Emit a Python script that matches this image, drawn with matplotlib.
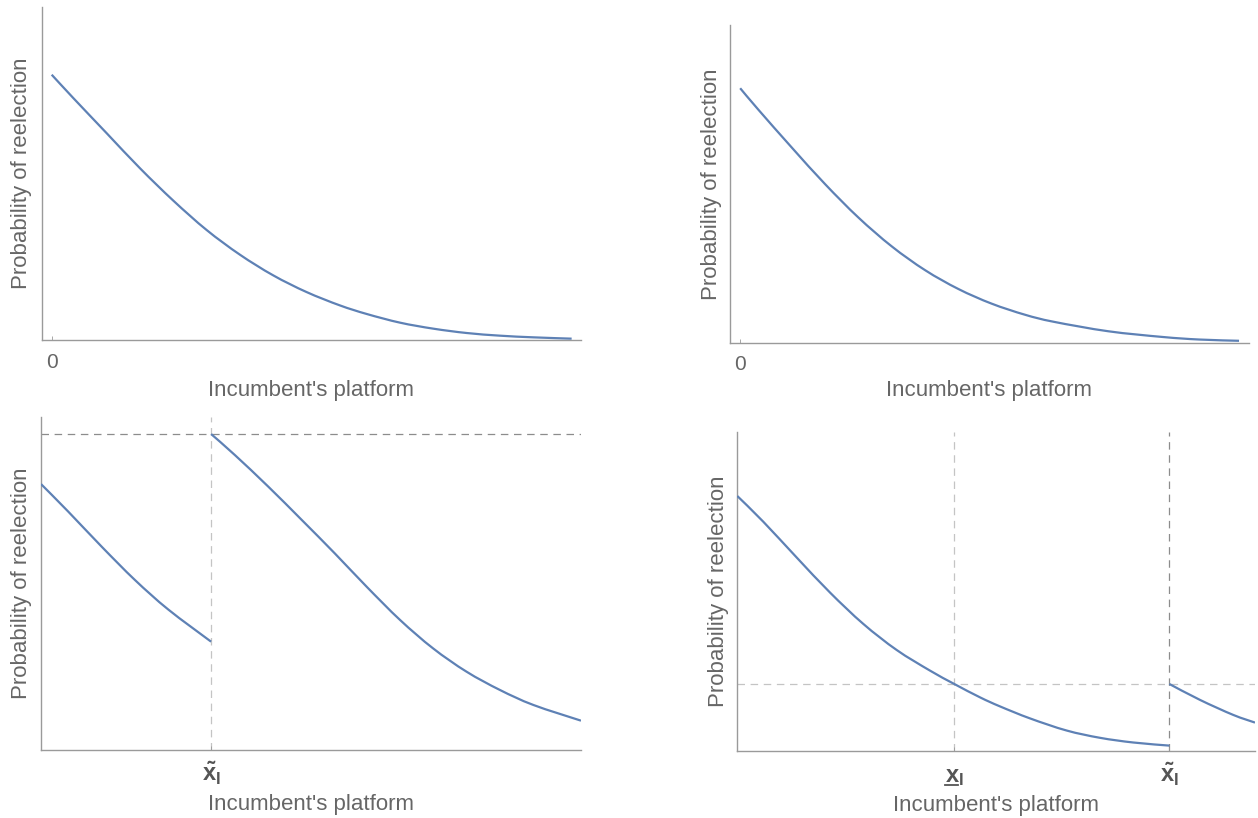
import matplotlib
matplotlib.use("Agg")
import matplotlib.pyplot as plt
from matplotlib.lines import Line2D
from matplotlib.path import Path
from matplotlib.patches import PathPatch
import matplotlib.transforms as mtransforms

plt.rcParams['font.family'] = ['Liberation Sans', 'DejaVu Sans']
plt.rcParams['mathtext.fontset'] = 'custom'
plt.rcParams['mathtext.rm'] = 'Liberation Sans'
plt.rcParams['mathtext.it'] = 'Liberation Sans:italic'
plt.rcParams['mathtext.bf'] = 'Liberation Sans:bold'

# ---------------- data ----------------
# top-left panel
tl_x = [0, 0.0415, 0.106, 0.170, 0.234, 0.298, 0.362, 0.426, 0.490, 0.554,
        0.606, 0.670, 0.734, 0.798, 0.862, 0.926, 1.0]
tl_y = [0.796, 0.726, 0.620, 0.515, 0.418, 0.330, 0.256, 0.194, 0.144, 0.104,
        0.078, 0.052, 0.034, 0.021, 0.013, 0.008, 0.004]

# top-right panel
tr_x = [0, 0.0367, 0.1036, 0.1703, 0.237, 0.304, 0.371, 0.4375, 0.504, 0.571,
        0.628, 0.738, 0.847, 0.92, 1.0]
tr_y = [0.801, 0.733, 0.614, 0.499, 0.394, 0.303, 0.228, 0.169, 0.123, 0.088,
        0.066, 0.036, 0.018, 0.010, 0.006]

# bottom-left panel
bl_xtilde = 0.315
bl_hline = 0.948
bl_x1 = [0, 0.0506, 0.1124, 0.174, 0.2357, 0.315]
bl_y1 = [0.798, 0.715, 0.610, 0.510, 0.4215, 0.325]
bl_x2 = [0.315, 0.359, 0.421, 0.483, 0.544, 0.603, 0.665, 0.726, 0.788, 0.850, 0.912, 1.0]
bl_y2 = [0.948, 0.885, 0.790, 0.690, 0.590, 0.490, 0.390, 0.305, 0.235, 0.180, 0.135, 0.088]

# bottom-right panel
br_xunder = 0.419
br_xtilde = 0.8345
br_hline = 0.210
br_x1 = [0, 0.0502, 0.1147, 0.179, 0.2434, 0.3079, 0.3722, 0.419, 0.469, 0.5074,
         0.5654, 0.636, 0.7006, 0.765, 0.8345]
br_y1 = [0.7986, 0.7181, 0.606, 0.4964, 0.398, 0.3163, 0.2518, 0.210, 0.1679, 0.1397,
         0.1021, 0.0642, 0.0413, 0.0266, 0.0169]
br_x2 = [0.8345, 0.8938, 0.958, 1.0]
br_y2 = [0.210, 0.160, 0.113, 0.089]

xlabel_text = "Incumbent's platform"
ylabel_text = "Probability of reelection"
zero_label = "0"
tilde_label = r'$\mathbf{\tilde{x}}_{\mathbf{I}}$'
under_label = r'$\mathbf{x}_{\mathbf{I}}$'

# ---------------- styling ----------------
W, H = 1258, 818
LINE_C = '#5e81b5'
AX_C = '#9a9a9a'
TXT_C = '#666666'
TICK_C = '#555555'
DASH_LIGHT = '#c4c4c4'
DASH_DARK = '#8c8c8c'
LW = 1.6
DASH = (0, (6, 4.5))

fig = plt.figure(figsize=(W / 100, H / 100), dpi=100)


def make_ax(l, t, r, b):
    # pixel box -> figure fraction
    return fig.add_axes([l / W, 1 - b / H, (r - l) / W, (b - t) / H])


def smooth_curve(ax, xs, ys):
    """Draw a smooth (Catmull-Rom style Bezier) curve through the points."""
    pts = list(zip(xs, ys))
    n = len(pts)
    verts = [pts[0]]
    codes = [Path.MOVETO]
    for i in range(n - 1):
        p0 = pts[i - 1] if i > 0 else pts[i]
        p1 = pts[i]
        p2 = pts[i + 1]
        p3 = pts[i + 2] if i + 2 < n else pts[i + 1]
        c1 = (p1[0] + (p2[0] - p0[0]) / 6.0, p1[1] + (p2[1] - p0[1]) / 6.0)
        c2 = (p2[0] - (p3[0] - p1[0]) / 6.0, p2[1] - (p3[1] - p1[1]) / 6.0)
        verts += [c1, c2, p2]
        codes += [Path.CURVE4] * 3
    patch = PathPatch(Path(verts, codes), facecolor='none', edgecolor=LINE_C,
                      lw=LW, capstyle='butt', zorder=3)
    ax.add_patch(patch)


def style(ax, height_px, width_px, xlab_off, ylab_off):
    for s in ('top', 'right'):
        ax.spines[s].set_visible(False)
    for s in ('left', 'bottom'):
        ax.spines[s].set_color(AX_C)
        ax.spines[s].set_linewidth(1.0)
    ax.set_yticks([])
    ax.tick_params(axis='x', direction='in', length=3, width=0.6, color=AX_C,
                   labelcolor=TXT_C, labelsize=15, pad=9)
    ax.set_xlabel(xlabel_text, fontsize=16, color=TXT_C)
    ax.set_ylabel(ylabel_text, fontsize=16, color=TXT_C)
    ax.xaxis.set_label_coords(0.5, -xlab_off / height_px)
    ax.xaxis.label.set_va('center')
    ax.yaxis.set_label_coords(-ylab_off / width_px, 0.5)
    ax.yaxis.label.set_va('center')
    ax.set_ylim(0, 1)


def tick_text(ax, x, label):
    trans = mtransforms.blended_transform_factory(ax.transData, ax.transAxes)
    off = mtransforms.ScaledTranslation(0, -31 / 100, fig.dpi_scale_trans)
    ax.text(x, 0, label, transform=trans + off, ha='center', va='baseline',
            fontsize=17, color=TICK_C)


# top-left
ax1 = make_ax(41.5, 6.7, 581, 340)
smooth_curve(ax1, tl_x, tl_y)
ax1.set_xlim(-0.0196, 1.018)
ax1.set_xticks([0])
ax1.set_xticklabels([zero_label])
style(ax1, 333.3, 539.5, 50.5, 19.5)

# top-right
ax2 = make_ax(730, 25, 1249, 342.7)
smooth_curve(ax2, tr_x, tr_y)
ax2.set_xlim(-0.0204, 1.02)
ax2.set_xticks([0])
ax2.set_xticklabels([zero_label])
style(ax2, 317.7, 519, 48, 19)

# bottom-left
ax3 = make_ax(41, 416.7, 581, 750)
ax3.set_xlim(0, 1)
ax3.axhline(bl_hline, color=DASH_DARK, lw=0.9, ls=DASH, zorder=1)
ax3.axvline(bl_xtilde, color=DASH_LIGHT, lw=0.9, ls=DASH, zorder=1)
smooth_curve(ax3, bl_x1, bl_y1)
smooth_curve(ax3, bl_x2, bl_y2)
ax3.set_xticks([bl_xtilde])
ax3.set_xticklabels([''])
style(ax3, 333.3, 540, 54.5, 19.5)
tick_text(ax3, bl_xtilde, tilde_label)

# bottom-right
ax4 = make_ax(737.3, 431.7, 1255, 751)
ax4.set_xlim(0, 1)
ax4.axhline(br_hline, color=DASH_LIGHT, lw=0.9, ls=DASH, zorder=1)
ax4.axvline(br_xunder, color=DASH_LIGHT, lw=0.9, ls=DASH, zorder=1)
ax4.axvline(br_xtilde, color=DASH_DARK, lw=0.9, ls=DASH, zorder=1)
smooth_curve(ax4, br_x1, br_y1)
smooth_curve(ax4, br_x2, br_y2)
ax4.set_xticks([br_xunder, br_xtilde])
ax4.set_xticklabels(['', ''])
style(ax4, 319.3, 517.7, 55, 19)
tick_text(ax4, br_xunder, under_label)
tick_text(ax4, br_xtilde, tilde_label)

# underline beneath the "x" of the lower-bound label
trans = mtransforms.blended_transform_factory(ax4.transData, ax4.transAxes)
off = mtransforms.ScaledTranslation(0, -34 / 100, fig.dpi_scale_trans)
ul = Line2D([br_xunder - 9.5 / 517.7, br_xunder + 3.5 / 517.7], [0, 0],
            transform=trans + off, color=TICK_C, lw=1.3, clip_on=False)
ax4.add_line(ul)

fig.savefig('out.png', dpi=100, facecolor='white')
